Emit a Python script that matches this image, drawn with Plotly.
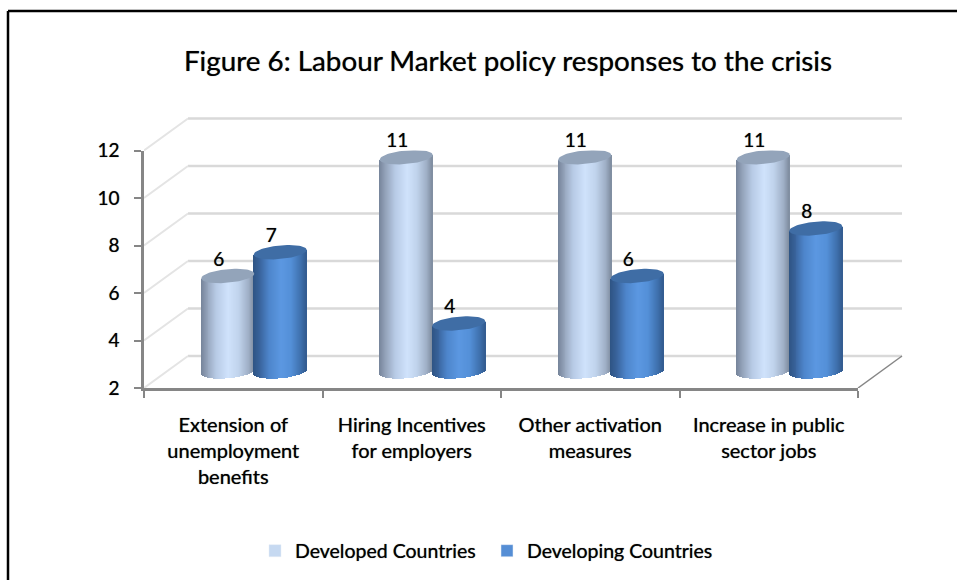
import numpy as np
import plotly.graph_objects as go

# Chart content
title = "Figure 6: Labour Market policy responses to the crisis"
categories = ["Extension of<br>unemployment<br>benefits",
              "Hiring Incentives<br>for employers",
              "Other activation<br>measures",
              "Increase in public<br>sector jobs"]
developed = [6, 11, 11, 11]
developing = [7, 4, 6, 8]
y_ticks = [2, 4, 6, 8, 10, 12]

# Canvas and front-plane geometry, in pixels
W, H = 957, 580
LEFT, RIGHT, TOP, BOTTOM = 144, 858, 150.5, 388
BOX_RIGHT, BOX_TOP = 904, 116
PX_X = (RIGHT - LEFT) / 4
PX_Y = (BOTTOM - TOP) / 10

# Depth of the 3D box and cylinder proportions
DEPTH_X, DEPTH_Y = 44 / PX_X, 32 / PX_Y
MID_Y = 17 / PX_Y
RADIUS = 26.5 / PX_X
CAP = 6.8 / PX_Y
TILT = 2.3 / PX_Y
DEV_SHIFT, EMG_SHIFT = -5.5 / PX_X, 47 / PX_X

GRID = "#d9d9d9"
SIDE = "#e4e4e4"
AXIS = "#868686"
TEXT_WEIGHT = "0 0 0.8px rgba(0,0,0,0.7)"

DEV_STOPS = [(0, "#76849a"), (.12, "#94a3ba"), (.3, "#b8cbe6"), (.52, "#d0e3fc"),
             (.72, "#c0d3ec"), (.9, "#9fafc6"), (1, "#7f8c9f")]
EMG_STOPS = [(0, "#2f5484"), (.12, "#39639b"), (.3, "#4e86cc"), (.52, "#5c98e2"),
             (.72, "#5490d8"), (.9, "#3f71ae"), (1, "#335c90")]


def hex_rgb(c):
    return np.array([int(c[i:i + 2], 16) for i in (1, 3, 5)], float)


def shade(stops, f):
    pos = [s[0] for s in stops]
    rgb = np.array([hex_rgb(s[1]) for s in stops])
    return "rgb(%d,%d,%d)" % tuple(np.interp(f, pos, rgb[:, k]) for k in range(3))


def cylinder_traces(values, shift, stops, cap_color):
    """Side of each cylinder as thin shaded bars, plus a tilted elliptical cap."""
    n = 54
    edges = np.linspace(-1, 1, n + 1)
    mids = (edges[:-1] + edges[1:]) / 2
    xs, tops, bases, colors = [], [], [], []
    caps = []
    for i, v in enumerate(values):
        cx = i + 0.5 + shift
        for u in mids:
            h = CAP * np.sqrt(1 - u * u)
            low = 2 + MID_Y - h + TILT * u
            top = v + MID_Y + TILT * u
            xs.append(cx + u * RADIUS)
            bases.append(low)
            tops.append(top - low)
            colors.append(shade(stops, (u + 1) / 2))
        t = np.linspace(0, 2 * np.pi, 73)
        caps.append(go.Scatter(
            x=cx + RADIUS * np.cos(t),
            y=v + MID_Y + CAP * np.sin(t) + TILT * np.cos(t),
            mode="lines", fill="toself", fillcolor=cap_color,
            line=dict(width=0, color=cap_color),
            xaxis="x2", yaxis="y2", showlegend=False, hoverinfo="skip"))
    side = go.Bar(x=xs, y=tops, base=bases, width=RADIUS * 2 / n * 1.25,
                  marker=dict(color=colors, line=dict(width=0)),
                  xaxis="x2", yaxis="y2", showlegend=False, hoverinfo="skip")
    # Value labels sit on the taller hidden axes so the 11s stay in range
    labels = go.Scatter(
        x=[i + 0.5 + shift - 9 / PX_X for i in range(len(values))],
        y=[v + MID_Y + 15 / PX_Y for v in values],
        mode="text", text=[str(v) for v in values],
        textposition="middle center",
        textfont=dict(family="Lato", size=19, color="#000000", shadow=TEXT_WEIGHT),
        showlegend=False, hoverinfo="skip")
    return side, caps, labels


traces = []

# Back wall and side wall gridlines live on the wider, hidden axes
for t in y_ticks:
    traces.append(go.Scatter(x=[DEPTH_X, 4 + DEPTH_X], y=[t + DEPTH_Y] * 2, mode="lines",
                             line=dict(color=GRID, width=2.5),
                             showlegend=False, hoverinfo="skip"))
    traces.append(go.Scatter(x=[0, DEPTH_X], y=[t, t + DEPTH_Y], mode="lines",
                             line=dict(color=SIDE, width=2),
                             showlegend=False, hoverinfo="skip"))
# Right edge of the floor
traces.append(go.Scatter(x=[4, 4 + DEPTH_X], y=[2, 2 + DEPTH_Y], mode="lines",
                         line=dict(color=AXIS, width=1.5),
                         showlegend=False, hoverinfo="skip"))

dev_side, dev_caps, dev_labels = cylinder_traces(developed, DEV_SHIFT, DEV_STOPS, "#93a4ba")
emg_side, emg_caps, emg_labels = cylinder_traces(developing, EMG_SHIFT, EMG_STOPS, "#3f6da5")
traces += [dev_labels, emg_labels, dev_side, emg_side] + dev_caps + emg_caps

# Legend entries
traces.append(go.Bar(x=[None], y=[None], name="Developed Countries",
                     marker=dict(color="#c6d9f1"), xaxis="x2", yaxis="y2"))
traces.append(go.Bar(x=[None], y=[None], name="Developing Countries",
                     marker=dict(color="#558ed5"), xaxis="x2", yaxis="y2"))

fig = go.Figure(traces)


def paper_x(px):
    return (px - LEFT) / (BOX_RIGHT - LEFT)


def paper_y(px):
    return (BOTTOM - px) / (BOTTOM - BOX_TOP)


hidden = dict(visible=False, fixedrange=True)
fig.update_layout(
    width=W, height=H, autosize=False,
    margin=dict(l=LEFT, r=W - BOX_RIGHT, t=BOX_TOP, b=H - BOTTOM, pad=0, autoexpand=False),
    paper_bgcolor="#ffffff", plot_bgcolor="rgba(0,0,0,0)",
    barmode="overlay", bargap=0,
    font=dict(family="Lato", color="#000000"),
    title=dict(text=title, x=paper_x(508), xref="paper", xanchor="center",
               y=1 - 61 / H, yanchor="middle", yref="container",
               font=dict(family="Lato", size=27.8, color="#000000", shadow=TEXT_WEIGHT)),
    # Hidden axes spanning the whole box, depth included
    xaxis=dict(range=[0, (BOX_RIGHT - LEFT) / PX_X], domain=[0, 1], **hidden),
    yaxis=dict(range=[2, 2 + (BOTTOM - BOX_TOP) / PX_Y], domain=[0, 1], **hidden),
    # Visible axes on the front plane
    xaxis2=dict(range=[0, 4], anchor="y2", domain=[0, paper_x(RIGHT)],
                tickmode="array", tickvals=[0.5, 1.5, 2.5, 3.5], ticktext=categories,
                tickfont=dict(family="Lato", size=20, color="#000000", shadow=TEXT_WEIGHT),
                ticks="", showgrid=False, zeroline=False, showline=True,
                linecolor=AXIS, linewidth=2.5, ticklabelstandoff=17,
                minor=dict(tickmode="array", tickvals=[0, 1, 2, 3, 4], ticks="outside",
                           ticklen=7, tickwidth=2, tickcolor=AXIS, showgrid=False),
                fixedrange=True),
    yaxis2=dict(range=[2, 12], anchor="x2", domain=[0, paper_y(TOP)],
                tickmode="array", tickvals=y_ticks, ticks="outside",
                ticklen=7, tickwidth=2, tickcolor=AXIS, showgrid=False, zeroline=False,
                showline=True, linecolor=AXIS, linewidth=2.5, ticklabelstandoff=11,
                tickfont=dict(family="Lato", size=19, color="#000000", shadow=TEXT_WEIGHT),
                fixedrange=True),
    legend=dict(orientation="h", x=paper_x(255), xanchor="left",
                y=paper_y(551), yanchor="middle", entrywidth=187, entrywidthmode="pixels",
                font=dict(family="Lato", size=19.5, color="#000000", shadow=TEXT_WEIGHT),
                bgcolor="rgba(0,0,0,0)", itemclick=False, itemdoubleclick=False),
    shapes=[
        dict(type="line", xref="paper", yref="paper", x0=paper_x(8), x1=paper_x(W),
             y0=paper_y(11), y1=paper_y(11), line=dict(color="#000000", width=2.5)),
        dict(type="line", xref="paper", yref="paper", x0=paper_x(8), x1=paper_x(8),
             y0=paper_y(11), y1=paper_y(H), line=dict(color="#000000", width=2.5)),
    ],
)

fig.write_html("out.html")
